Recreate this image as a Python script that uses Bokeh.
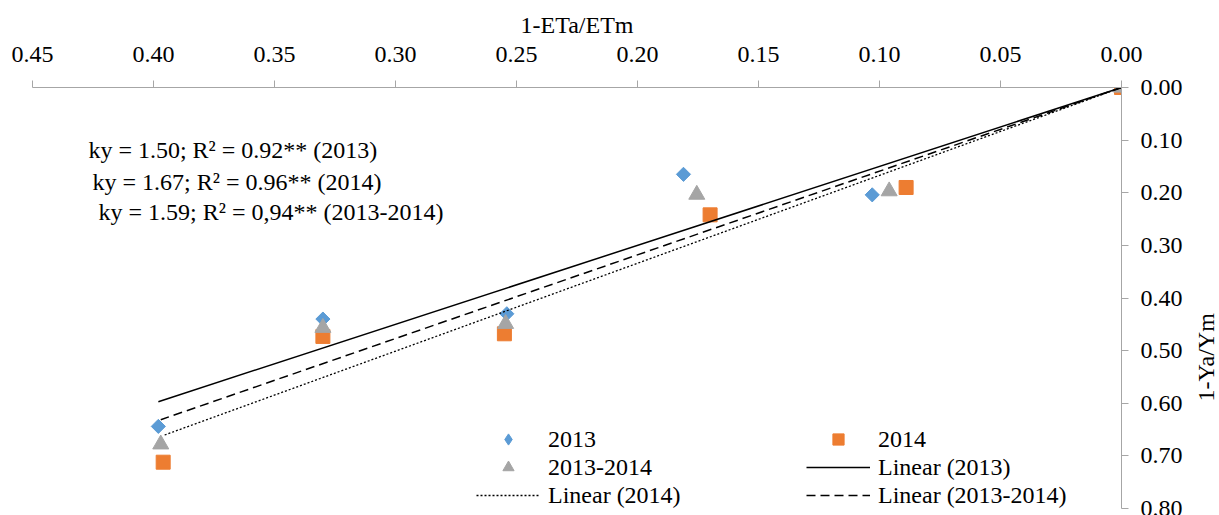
import numpy as np
from bokeh.plotting import figure
from bokeh.layouts import row
from bokeh.models import (Range1d, FixedTicker, PrintfTickFormatter, Legend,
                          LegendItem, Label)
from bokeh.embed import file_html
from bokeh.resources import INLINE

# ---------------- data ----------------
series_names = ["2013", "2014", "2013-2014"]
x_2013 = [0.398, 0.330, 0.254, 0.181, 0.103, 0.0]
y_2013 = [0.644, 0.440, 0.430, 0.165, 0.204, 0.0]
x_2014 = [0.396, 0.330, 0.255, 0.170, 0.089, 0.0]
y_2014 = [0.712, 0.473, 0.468, 0.242, 0.190, 0.0]
x_1314 = [0.397, 0.330, 0.2545, 0.1755, 0.096, 0.0]
y_1314 = [0.678, 0.4565, 0.449, 0.2035, 0.197, 0.0]
ky_values = [1.50, 1.67, 1.59]
r2_labels = ["0.92", "0.96", "0,94"]
x_ticks = [0.45, 0.40, 0.35, 0.30, 0.25, 0.20, 0.15, 0.10, 0.05, 0.00]
y_ticks = [0.00, 0.10, 0.20, 0.30, 0.40, 0.50, 0.60, 0.70, 0.80]
x_title = "1-ETa/ETm"
y_title = "1-Ya/Ym"

FONT = "Liberation Serif"
FS = "24px"
AXIS_GREY = "#A6A6A6"
BLUE, ORANGE, GREY = "#5B9BD5", "#ED7D31", "#A5A5A5"

p = figure(width=1190, height=515, output_backend="svg", toolbar_location=None,
           x_range=Range1d(0.45, 0.0), y_range=Range1d(0.80, 0.0),
           x_axis_location="above", y_axis_location="right",
           min_border_left=32, min_border_right=69, min_border_top=87,
           min_border_bottom=7)
p.grid.visible = False
p.outline_line_color = None
p.background_fill_color = "white"
p.border_fill_color = "white"

p.xaxis.ticker = FixedTicker(ticks=x_ticks)
p.yaxis.ticker = FixedTicker(ticks=y_ticks)
p.xaxis.formatter = PrintfTickFormatter(format="%.2f")
p.yaxis.formatter = PrintfTickFormatter(format="%.2f")
p.xaxis.axis_label = x_title
for ax in (p.xaxis[0], p.yaxis[0]):
    ax.axis_line_color = AXIS_GREY
    ax.axis_line_width = 1
    ax.major_tick_line_color = AXIS_GREY
    ax.minor_tick_line_color = None
    ax.major_tick_out = 7
    ax.major_tick_in = 0
    ax.major_label_text_font = FONT
    ax.major_label_text_font_size = FS
    ax.major_label_text_color = "black"
    ax.axis_label_text_font = FONT
    ax.axis_label_text_font_size = FS
    ax.axis_label_text_font_style = "normal"
    ax.axis_label_text_color = "black"
p.xaxis.major_label_standoff = 19
p.xaxis.axis_label_standoff = 6
p.yaxis.major_label_standoff = 12

# ---------------- markers ----------------
# legend-only diamond (legend glyphs are never rotated); hidden beneath the plot diamonds
r13_leg = p.scatter(x_2013, y_2013, marker="diamond", size=9,
                    fill_color=BLUE, line_color=BLUE)
r13 = p.scatter(x_2013, y_2013, marker="square", angle=np.pi / 4, size=10,
                fill_color=BLUE, line_color=BLUE)
r14 = p.scatter(x_2014, y_2014, marker="square", size=14,
                fill_color=ORANGE, line_color=ORANGE)
r1314 = p.scatter(x_1314, y_1314, marker="triangle", size=16,
                  fill_color=GREY, line_color=GREY)

# ---------------- trend lines (through origin) ----------------
def trend(xs, k):
    xe = [0.0, max(xs)]
    return xe, [k * v for v in xe]

tx, ty = trend(x_2013, ky_values[0])
l13 = p.line(tx, ty, line_color="black", line_width=1.5)
tx, ty = trend(x_2014, ky_values[1])
l14 = p.line(tx, ty, line_color="black", line_width=1.3, line_dash="2 2")
tx, ty = trend(x_1314, ky_values[2])
l1314 = p.line(tx, ty, line_color="black", line_width=1.5, line_dash="9 5")

# ---------------- legends (two columns) ----------------
def make_legend(items, loc):
    lg = Legend(items=[LegendItem(label=t, renderers=[r]) for t, r in items],
                location=loc, orientation="vertical")
    lg.glyph_width = 64
    lg.glyph_height = 28
    lg.label_height = 28
    lg.spacing = 0
    lg.padding = 0
    lg.margin = 0
    lg.label_standoff = 8
    lg.border_line_color = None
    lg.background_fill_alpha = 0
    lg.label_text_font = FONT
    lg.label_text_font_size = FS
    lg.label_text_color = "black"
    return lg

leg1 = make_legend([(series_names[0], r13_leg), (series_names[2], r1314),
                    ("Linear (%s)" % series_names[1], l14)], (444, -1))
leg2 = make_legend([(series_names[1], r14), ("Linear (%s)" % series_names[0], l13),
                    ("Linear (%s)" % series_names[2], l1314)], (774, -1))
p.add_layout(leg1)
p.add_layout(leg2)

# ---------------- equation texts ----------------
eq_pos = [(0.4269, 0.1197), (0.4252, 0.1805), (0.4227, 0.2375)]
for (ex, ey), name, k, r2 in zip(eq_pos, series_names, ky_values, r2_labels):
    p.add_layout(Label(x=ex, y=ey, text="ky = %.2f; R\u00b2 = %s** (%s)" % (k, r2, name),
                       text_font=FONT, text_font_size=FS, text_color="black",
                       text_baseline="middle", text_align="left"))

# ---------------- y-axis title strip (reads bottom-to-top) ----------------
p2 = figure(width=29, height=515, output_backend="svg", toolbar_location=None,
            x_range=Range1d(0, 29), y_range=Range1d(515, 0),
            x_axis_location=None, y_axis_location=None, min_border=0)
p2.grid.visible = False
p2.outline_line_color = None
p2.border_fill_color = "white"
p2.add_layout(Label(x=15, y=330, text=y_title, angle=np.pi / 2,
                    text_font=FONT, text_font_size=FS, text_color="black",
                    text_align="center", text_baseline="middle"))

layout = row(p, p2)
open("out.html", "w").write(file_html(layout, INLINE))
